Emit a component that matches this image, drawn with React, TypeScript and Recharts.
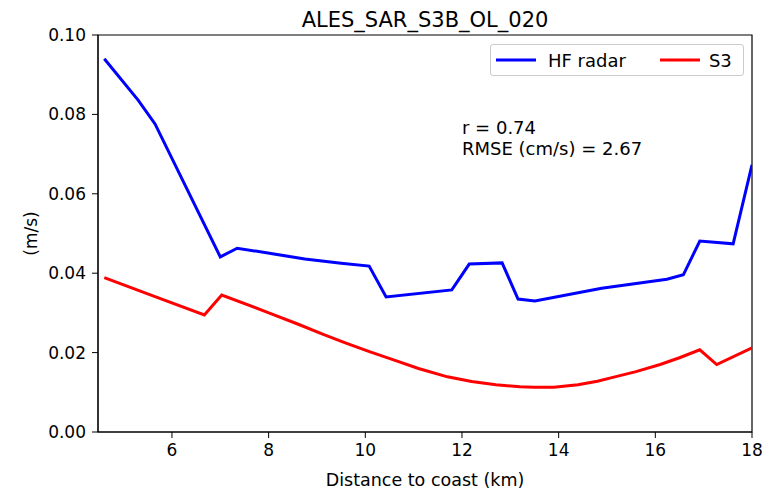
import React from 'react';
import { LineChart, Line, XAxis, YAxis, ReferenceArea } from 'recharts';

const hfDistance = [4.6, 5.3, 5.65, 7.0, 7.35, 8.75, 9.5, 10.08, 10.43, 11.79, 12.15, 12.83, 13.16, 13.51, 14.89, 16.24, 16.58, 16.92, 17.61, 18.0];
const hfSpeed = [0.094, 0.0836, 0.0776, 0.0441, 0.0463, 0.0436, 0.0425, 0.0418, 0.034, 0.0358, 0.0423, 0.0426, 0.0335, 0.033, 0.0362, 0.0385, 0.0396, 0.0481, 0.0474, 0.0673];

const s3Distance = [4.6, 5.65, 6.67, 7.03, 8.03, 8.6, 9.13, 9.6, 10.1, 10.6, 11.1, 11.7, 12.2, 12.7, 13.2, 13.5, 13.9, 14.4, 14.8, 15.1, 15.6, 16.1, 16.5, 16.92, 17.27, 18.0];
const s3Speed = [0.0389, 0.0341, 0.0295, 0.0345, 0.0299, 0.0272, 0.0246, 0.0224, 0.0202, 0.0181, 0.016, 0.0139, 0.0127, 0.0119, 0.0114, 0.0113, 0.0113, 0.0119, 0.0128, 0.0137, 0.0152, 0.017, 0.0187, 0.0207, 0.017, 0.0212];

const xTicks = [6, 8, 10, 12, 14, 16, 18];
const yTicks = [0, 0.02, 0.04, 0.06, 0.08, 0.1];
const xDomain = [4.47, 18];
const yDomain = [0, 0.1];

const title = 'ALES_SAR_S3B_OL_020';
const stats = ['r = 0.74', 'RMSE (cm/s) = 2.67'];
const seriesNames = ['HF radar', 'S3'];

const hfData = hfDistance.map((d, i) => ({ d, v: hfSpeed[i] }));
const s3Data = s3Distance.map((d, i) => ({ d, v: s3Speed[i] }));

const FONT = 'DejaVu Sans, sans-serif';

const YLabel = (props: any) => {
  const vb = props.viewBox || {};
  const cx = 31;
  const cy = vb.y + vb.height / 2;
  return (
    <text x={cx} y={cy} transform={`rotate(-90 ${cx} ${cy})`} textAnchor="middle" dominantBaseline="central" fill="#000" fontSize={17} fontFamily={FONT}>
      (m/s)
    </text>
  );
};

export default function App() {
  return (
    <div style={{ position: 'absolute', left: 0, top: 0, width: 772, height: 490, background: 'white' }}>
      <LineChart width={772} height={490} margin={{ top: 35, right: 20, bottom: 0, left: 0 }}>
        <XAxis
          type="number"
          dataKey="d"
          domain={xDomain}
          ticks={xTicks}
          allowDataOverflow
          height={58}
          tickSize={6}
          tickMargin={6}
          stroke="#000"
          tick={{ fill: '#000', fontSize: 17, fontFamily: FONT }}
          label={{ value: 'Distance to coast (km)', position: 'insideBottom', offset: 4, fill: '#000', fontSize: 17.5, fontFamily: FONT }}
        />
        <YAxis
          type="number"
          dataKey="v"
          domain={yDomain}
          ticks={yTicks}
          allowDataOverflow
          width={98}
          tickSize={6}
          tickMargin={6}
          stroke="#000"
          tickFormatter={(v: number) => v.toFixed(2)}
          tick={{ fill: '#000', fontSize: 17, fontFamily: FONT }}
          label={<YLabel />}
        />
        <ReferenceArea x1={xDomain[0]} x2={xDomain[1]} y1={yDomain[0]} y2={yDomain[1]} fill="none" stroke="#000" strokeWidth={1.2} ifOverflow="visible" />
        <Line data={hfData} dataKey="v" name={seriesNames[0]} stroke="#0000ff" strokeWidth={3} dot={false} type="linear" isAnimationActive={false} />
        <Line data={s3Data} dataKey="v" name={seriesNames[1]} stroke="#ff0000" strokeWidth={3} dot={false} type="linear" isAnimationActive={false} />
      </LineChart>
      <div style={{ position: 'absolute', left: 98, width: 654, top: 8, lineHeight: '24px', textAlign: 'center', fontFamily: FONT, fontSize: 21, color: '#000' }}>
        {title}
      </div>
      <div
        style={{
          position: 'absolute',
          left: 490,
          top: 44,
          border: '1px solid #ccc',
          borderRadius: 3,
          background: 'white',
          width: 254,
          height: 32,
          display: 'flex',
          alignItems: 'center',
          fontFamily: FONT,
          fontSize: 18,
          color: '#000',
          boxSizing: 'border-box',
        }}
      >
        <svg width={40} height={10} style={{ marginLeft: 5 }}>
          <line x1={0} y1={5} x2={40} y2={5} stroke="#0000ff" strokeWidth={3} />
        </svg>
        <span style={{ marginLeft: 12 }}>{seriesNames[0]}</span>
        <svg width={40} height={10} style={{ marginLeft: 34 }}>
          <line x1={0} y1={5} x2={40} y2={5} stroke="#ff0000" strokeWidth={3} />
        </svg>
        <span style={{ marginLeft: 9 }}>{seriesNames[1]}</span>
      </div>
      <div style={{ position: 'absolute', left: 462, top: 117, fontFamily: FONT, fontSize: 18, lineHeight: '21px', color: '#000' }}>
        {stats.map((s) => (
          <div key={s}>{s}</div>
        ))}
      </div>
    </div>
  );
}
